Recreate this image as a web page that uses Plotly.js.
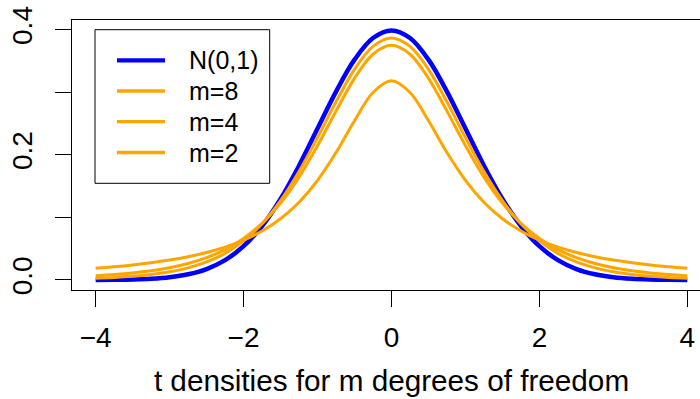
<!DOCTYPE html>
<html>
<head>
<meta charset="utf-8">
<script src="https://cdn.plot.ly/plotly-3.0.1.min.js"></script>
<style>
html,body{margin:0;padding:0;overflow:hidden;background:#fff;width:700px;height:399px;}
#plot{width:712px;height:399px;}
</style>
</head>
<body>
<div id="plot"></div>
<script>
// x grid
const xs = [-4,-3.75,-3.5,-3.25,-3,-2.75,-2.5,-2.25,-2,-1.75,-1.5,-1.25,-1,-0.75,-0.5,-0.25,0,
            0.25,0.5,0.75,1,1.25,1.5,1.75,2,2.25,2.5,2.75,3,3.25,3.5,3.75,4];
// N(0,1)
const normal = [0.0001,0.0004,0.0009,0.0020,0.0044,0.0091,0.0175,0.0317,0.0540,0.0863,0.1295,0.1826,0.2420,0.3011,0.3521,0.3867,0.3989,
                0.3867,0.3521,0.3011,0.2420,0.1826,0.1295,0.0863,0.0540,0.0317,0.0175,0.0091,0.0044,0.0020,0.0009,0.0004,0.0001];
// m=8
const m8 = [0.0028,0.0040,0.0059,0.0088,0.0130,0.0194,0.0288,0.0426,0.0624,0.0899,0.1268,0.1733,0.2276,0.2848,0.3367,0.3734,0.3867,
            0.3734,0.3367,0.2848,0.2276,0.1733,0.1268,0.0899,0.0624,0.0426,0.0288,0.0194,0.0130,0.0088,0.0059,0.0040,0.0028];
// m=4
const m4 = [0.0067,0.0087,0.0113,0.0148,0.0197,0.0264,0.0357,0.0485,0.0663,0.0905,0.1229,0.1644,0.2147,0.2699,0.3223,0.3608,0.3750,
            0.3608,0.3223,0.2699,0.2147,0.1644,0.1229,0.0905,0.0663,0.0485,0.0357,0.0264,0.0197,0.0148,0.0113,0.0087,0.0067];
// m=2
const m2 = [0.0187,0.0211,0.0240,0.0275,0.0318,0.0372,0.0439,0.0525,0.0637,0.0784,0.0979,0.1242,0.1592,0.2037,0.2546,0.2996,0.3183,
            0.2996,0.2546,0.2037,0.1592,0.1242,0.0979,0.0784,0.0637,0.0525,0.0439,0.0372,0.0318,0.0275,0.0240,0.0211,0.0187];
const names = ["N(0,1)","m=8","m=4","m=2"];
const xTicks = [-4,-2,0,2,4];
const xTickText = ["\u22124","\u22122","0","2","4"];
const yTicks = [0,0.1,0.2,0.3,0.4];
const yTickText = ["0.0","","0.2","","0.4"];

const series = [normal, m8, m4, m2];
const colors = ["#0000FF","#FFA500","#FFA500","#FFA500"];
const widths = [4.5,3,3,3];
const traces = series.map((ys,i)=>({
  x: xs, y: ys, type:"scatter", mode:"lines", name: names[i], showlegend:false,
  line:{color:colors[i], width:widths[i], shape:"spline", smoothing:1}
}));

// plot area in page pixels
const L = 72, R = 711, T = 20, B = 290;
const px = X => (X - L) / (R - L);
const py = Y => (B - Y) / (B - T);

// legend (R style boxed legend)
const shapes = [{type:"rect", xref:"paper", yref:"paper",
  x0:px(95), x1:px(269.7), y0:py(29.7), y1:py(183.3),
  line:{color:"#000", width:1}, fillcolor:"rgba(255,255,255,1)", layer:"above"}];
const annotations = [];
const rowY = [60.3, 91, 121.7, 152.5];
names.forEach((n,i)=>{
  shapes.push({type:"line", xref:"paper", yref:"paper",
    x0:px(117), x1:px(165), y0:py(rowY[i]), y1:py(rowY[i]),
    line:{color:colors[i], width:(i===0?4.3:3.3)}, layer:"above"});
  annotations.push({xref:"paper", yref:"paper", x:px(187), y:py(rowY[i]),
    xanchor:"left", yanchor:"middle", text:n, showarrow:false,
    font:{family:"Liberation Sans, Arial, sans-serif", size:25, color:"#000"}});
});

const tickFont = {family:"Liberation Sans, Arial, sans-serif", size:28, color:"#000"};
const titleFont = {family:"Liberation Sans, Arial, sans-serif", size:29.7, color:"#000"};
const layout = {
  width:712, height:399,
  margin:{l:L, r:712-R, t:T, b:399-B},
  paper_bgcolor:"#fff", plot_bgcolor:"#fff",
  font: tickFont,
  showlegend:false,
  shapes: shapes,
  annotations: annotations,
  xaxis:{range:[-4.32,4.32], tickvals:xTicks, ticktext:xTickText, tickfont:tickFont,
         ticks:"outside", ticklen:16, tickwidth:1, tickcolor:"#000", ticklabelstandoff:6,
         showline:true, linecolor:"#000", linewidth:1, mirror:true,
         showgrid:false, zeroline:false,
         title:{text:"t densities for m degrees of freedom", font:titleFont, standoff:18}},
  yaxis:{range:[-0.016,0.4155], tickvals:yTicks, ticktext:yTickText, tickfont:tickFont,
         ticks:"outside", ticklen:16, tickwidth:1, tickcolor:"#000", tickangle:-90,
         ticklabelstandoff:12,
         showline:true, linecolor:"#000", linewidth:1, mirror:true,
         showgrid:false, zeroline:false}
};
Plotly.newPlot("plot", traces, layout, {staticPlot:true, displayModeBar:false});
</script>
</body>
</html>
